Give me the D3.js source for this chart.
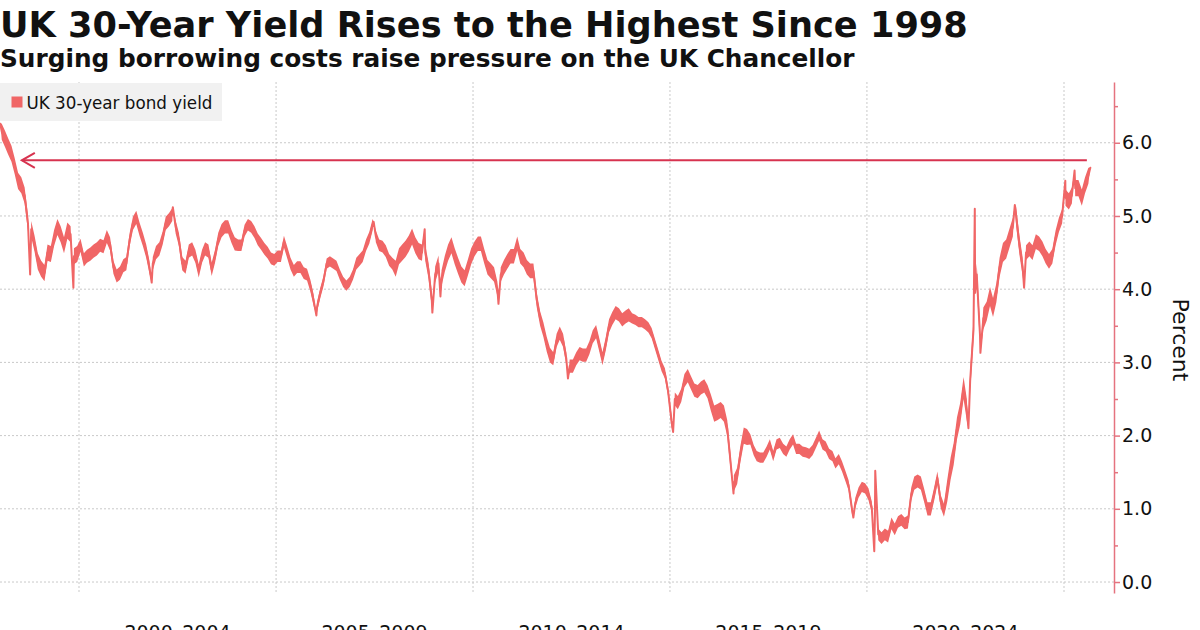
<!DOCTYPE html>
<html><head><meta charset="utf-8">
<script src="https://cdn.jsdelivr.net/npm/d3@7"></script>
<style>body{margin:0;background:#fff;} svg{display:block;}</style>
</head><body>
<svg id="chart" width="1200" height="630"></svg>
<script>
// ---------------- DATA ----------------
const titleText = "UK 30-Year Yield Rises to the Highest Since 1998";
const subtitleText = "Surging borrowing costs raise pressure on the UK Chancellor";
const seriesName = "UK 30-year bond yield";
const axisTitle = "Percent";
const yTicks = [0, 1, 2, 3, 4, 5, 6];
const yMinorTicks = [0.5, 1.5, 2.5, 3.5, 4.5, 5.5, 6.5];
const gridYears = [2000, 2005, 2010, 2015, 2020, 2025];
const periodLabels = ["2000–2004", "2005–2009", "2010–2014", "2015–2019", "2020–2024"];
const periodStarts = [2000, 2005, 2010, 2015, 2020];

// monthly readings (mid-month), Jan 1998 .. Aug 2025
const firstYear = 1998;
const monthlyYield = [
  6.15, 6.05, 5.95, 5.85, 5.68, 5.48, 5.42, 5.28, 4.90, 4.82, 4.62, 4.38, // 1998
  4.28, 4.22, 4.50, 4.48, 4.70, 4.85, 4.75, 4.60, 4.80, 4.75, 4.45, 4.48, // 1999
  4.60, 4.40, 4.45, 4.48, 4.52, 4.55, 4.60, 4.58, 4.72, 4.62, 4.30, 4.18, // 2000
  4.22, 4.32, 4.35, 4.68, 4.90, 4.98, 4.82, 4.68, 4.52, 4.30, 4.35, 4.50, // 2001
  4.55, 4.70, 4.90, 4.95, 5.02, 4.85, 4.68, 4.35, 4.30, 4.52, 4.55, 4.45, // 2002
  4.25, 4.45, 4.55, 4.52, 4.27, 4.45, 4.68, 4.80, 4.85, 4.85, 4.72, 4.62, // 2003
  4.60, 4.60, 4.80, 4.88, 4.85, 4.78, 4.68, 4.62, 4.55, 4.50, 4.42, 4.40, // 2004
  4.45, 4.45, 4.65, 4.50, 4.35, 4.25, 4.30, 4.30, 4.22, 4.20, 4.05, 3.85, // 2005
  3.75, 3.95, 4.10, 4.35, 4.38, 4.35, 4.32, 4.20, 4.10, 4.05, 4.10, 4.20, // 2006
  4.35, 4.40, 4.45, 4.60, 4.70, 4.88, 4.72, 4.60, 4.58, 4.52, 4.40, 4.35, // 2007
  4.28, 4.45, 4.50, 4.55, 4.62, 4.72, 4.60, 4.52, 4.50, 4.50, 4.25, 3.85, // 2008
  4.20, 4.35, 4.15, 4.35, 4.50, 4.60, 4.45, 4.32, 4.20, 4.15, 4.30, 4.45, // 2009
  4.55, 4.62, 4.62, 4.45, 4.30, 4.25, 4.20, 4.00, 4.20, 4.30, 4.38, 4.45, // 2010
  4.45, 4.62, 4.45, 4.40, 4.30, 4.25, 4.25, 3.85, 3.60, 3.45, 3.25, 3.10, // 2011
  3.05, 3.30, 3.40, 3.30, 3.05, 2.95, 2.95, 3.05, 3.12, 3.10, 3.10, 3.20, // 2012
  3.35, 3.42, 3.25, 3.05, 3.25, 3.50, 3.60, 3.68, 3.65, 3.58, 3.62, 3.65, // 2013
  3.60, 3.58, 3.55, 3.55, 3.52, 3.48, 3.40, 3.25, 3.10, 2.95, 2.85, 2.60, // 2014
  2.20, 2.50, 2.45, 2.55, 2.75, 2.82, 2.72, 2.62, 2.60, 2.65, 2.68, 2.60, // 2015
  2.45, 2.30, 2.32, 2.35, 2.30, 2.10, 1.65, 1.35, 1.45, 1.75, 2.00, 1.98, // 2016
  1.95, 1.80, 1.72, 1.70, 1.70, 1.78, 1.88, 1.72, 1.88, 1.90, 1.82, 1.78, // 2017
  1.88, 1.95, 1.82, 1.82, 1.78, 1.77, 1.75, 1.80, 1.90, 2.00, 1.88, 1.85, // 2018
  1.75, 1.72, 1.62, 1.68, 1.58, 1.45, 1.32, 1.00, 1.08, 1.22, 1.30, 1.28, // 2019
  1.20, 1.02, 0.90, 0.65, 0.60, 0.65, 0.62, 0.80, 0.72, 0.82, 0.85, 0.80, // 2020
  0.82, 1.20, 1.35, 1.38, 1.35, 1.18, 1.00, 1.00, 1.20, 1.42, 1.10, 0.98, // 2021
  1.25, 1.55, 1.75, 2.10, 2.30, 2.65, 2.35, 2.75, 3.45, 4.20, 3.35, 3.60, // 2022
  3.70, 3.90, 3.75, 3.95, 4.30, 4.50, 4.55, 4.70, 4.85, 5.00, 4.60, 4.30, // 2023
  4.50, 4.55, 4.50, 4.65, 4.62, 4.55, 4.45, 4.38, 4.45, 4.70, 4.88, 5.00, // 2024
  5.25, 5.20, 5.28, 5.38, 5.38, 5.25, 5.42, 5.55                          // 2025
];
// typical within-month high-low spread of the daily series, per year (pct points)
const yearlySpread = [
  0.22, 0.22, 0.18, 0.18, 0.18, 0.18, 0.16, 0.16, 0.14, 0.16, // 1998-2007
  0.22, 0.22, 0.20, 0.20, 0.18, 0.18, 0.14, 0.18, 0.22, 0.14, // 2008-2017
  0.14, 0.14, 0.16, 0.18, 0.30, 0.26, 0.20, 0.22              // 2018-2025
];

// individual daily extremes
const extraDates = [
  "1998-01-02", "1998-10-05", "1999-11-10", "2001-11-05", "2002-05-20",
  "2006-01-10", "2007-06-25", "2008-10-10", "2008-12-20", "2009-03-05",
  "2010-08-25", "2012-05-30", "2015-01-30", "2016-08-12", "2019-08-28",
  "2020-03-09", "2020-03-18", "2022-07-30", "2022-09-27", "2022-09-30",
  "2022-11-18", "2023-10-03", "2023-12-28", "2025-01-13", "2025-04-09",
  "2025-09-02"
];
const extraValues = [
  6.26, 4.20, 4.02, 4.09, 5.12,
  3.64, 4.92, 4.82, 3.68, 3.90,
  3.80, 2.78, 2.05, 1.21, 0.88,
  0.42, 1.52, 2.10, 5.10, 3.95,
  3.13, 5.15, 4.02, 5.48, 5.62,
  5.66
];

// horizontal marker: highest level, arrow pointing back to 1998
const markerLevel = 5.76;
const markerFrom = "2025-08-01";
const markerTo = "1998-07-20";

// ---------------- CHART ----------------
const lineColor = "#f06666";
const arrowColor = "#d7334f";
const axisColor = "#e5737f";
const gridColor = "#c9c9c9";
const textColor = "#111111";
const font = "'DejaVu Sans', Verdana, sans-serif";

const parse = d3.utcParse("%Y-%m-%d");
const points = monthlyYield.map((v, i) => ({
  date: new Date(Date.UTC(firstYear + Math.floor(i / 12), i % 12, 15)),
  value: v,
  spread: yearlySpread[Math.floor(i / 12)]
}));
extraDates.forEach((d, i) => points.push({ date: parse(d), value: extraValues[i], spread: 0 }));
points.sort((a, b) => a.date - b.date);

const svg = d3.select("#chart");

const x = d3.scaleUtc()
  .domain([new Date(Date.UTC(2000, 0, 1)), new Date(Date.UTC(2025, 0, 1))])
  .range([79, 1064]);
const y = d3.scaleLinear().domain([-0.15, 6.83]).range([593, 82]);
const axisX = 1114;

// titles
function fitText(sel, target) {
  const len = sel.node().getComputedTextLength();
  const fs = parseFloat(sel.attr("font-size"));
  sel.attr("font-size", (fs * target / len).toFixed(2));
}
const title = svg.append("text").attr("x", 0).attr("y", 37)
  .attr("font-family", font).attr("font-weight", "bold").attr("font-size", 36)
  .attr("fill", textColor).text(titleText);
fitText(title, 968);
const sub = svg.append("text").attr("x", 0).attr("y", 67)
  .attr("font-family", font).attr("font-weight", "bold").attr("font-size", 24)
  .attr("fill", textColor).text(subtitleText);
fitText(sub, 855);

// grid
const grid = svg.append("g");
grid.selectAll("line.h").data(yTicks).join("line")
  .attr("x1", 0).attr("x2", axisX)
  .attr("y1", d => y(d)).attr("y2", d => y(d))
  .attr("stroke", gridColor).attr("stroke-width", 1).attr("stroke-dasharray", "2,2");
grid.selectAll("line.v").data(gridYears).join("line")
  .attr("x1", d => x(new Date(Date.UTC(d, 0, 1)))).attr("x2", d => x(new Date(Date.UTC(d, 0, 1))))
  .attr("y1", 82).attr("y2", 593)
  .attr("stroke", gridColor).attr("stroke-width", 1).attr("stroke-dasharray", "2,2");

// legend
const lg = svg.append("g");
lg.append("rect").attr("x", 0).attr("y", 83).attr("width", 222).attr("height", 38).attr("fill", "#f1f1f1");
lg.append("rect").attr("x", 11.5).attr("y", 96.5).attr("width", 11).attr("height", 11).attr("fill", lineColor);
const lt = lg.append("text").attr("x", 26.5).attr("y", 108.5)
  .attr("font-family", font).attr("font-size", 17).attr("fill", textColor).text(seriesName);
fitText(lt, 186);

// series: within-month range band + line
const band = d3.area().x(d => x(d.date))
  .y0(d => y(d.value - d.spread / 2)).y1(d => y(d.value + d.spread / 2));
svg.append("path").datum(points)
  .attr("d", band).attr("fill", lineColor);
const line = d3.line().x(d => x(d.date)).y(d => y(d.value));
svg.append("path").datum(points)
  .attr("d", line).attr("fill", "none")
  .attr("stroke", lineColor).attr("stroke-width", 2)
  .attr("stroke-linejoin", "round").attr("stroke-linecap", "round");

// marker arrow
const ay = y(markerLevel);
const ax1 = x(parse(markerFrom)), ax2 = x(parse(markerTo));
const ag = svg.append("g").attr("stroke", arrowColor).attr("stroke-width", 2).attr("fill", "none");
ag.append("line").attr("x1", ax1).attr("x2", ax2).attr("y1", ay).attr("y2", ay);
ag.append("polyline").attr("points", [[ax2 + 13, ay - 7.5], [ax2, ay], [ax2 + 13, ay + 7.5]].map(p => p.join(",")).join(" "));

// right axis
const yAxis = d3.axisRight(y).tickValues(yTicks).tickFormat(d3.format(".1f"))
  .tickSize(6).tickSizeOuter(0).tickPadding(2);
const ga = svg.append("g").attr("transform", `translate(${axisX},0)`).call(yAxis);
ga.select(".domain").attr("stroke", axisColor).attr("stroke-width", 1.5);
ga.selectAll(".tick line").attr("stroke", axisColor).attr("stroke-width", 1.5);
ga.selectAll(".tick text").attr("font-family", font).attr("font-size", 19).attr("fill", textColor);
const minorAxis = d3.axisRight(y).tickValues(yMinorTicks).tickFormat("").tickSize(4).tickSizeOuter(0);
const gm = svg.append("g").attr("transform", `translate(${axisX},0)`).call(minorAxis);
gm.select(".domain").remove();
gm.selectAll(".tick line").attr("stroke", axisColor).attr("stroke-width", 1.5);

svg.append("text")
  .attr("transform", `translate(1173,340) rotate(90)`)
  .attr("text-anchor", "middle").attr("font-family", font).attr("font-size", 22)
  .attr("fill", textColor).text(axisTitle);

// period labels (bottom, cut off by the frame as in the reference)
svg.append("g").selectAll("text").data(periodStarts).join("text")
  .attr("x", d => (x(new Date(Date.UTC(d, 0, 1))) + x(new Date(Date.UTC(d + 5, 0, 1)))) / 2)
  .attr("y", 639).attr("text-anchor", "middle")
  .attr("font-family", font).attr("font-size", 19).attr("fill", textColor)
  .text((d, i) => periodLabels[i]);
</script>
</body></html>
